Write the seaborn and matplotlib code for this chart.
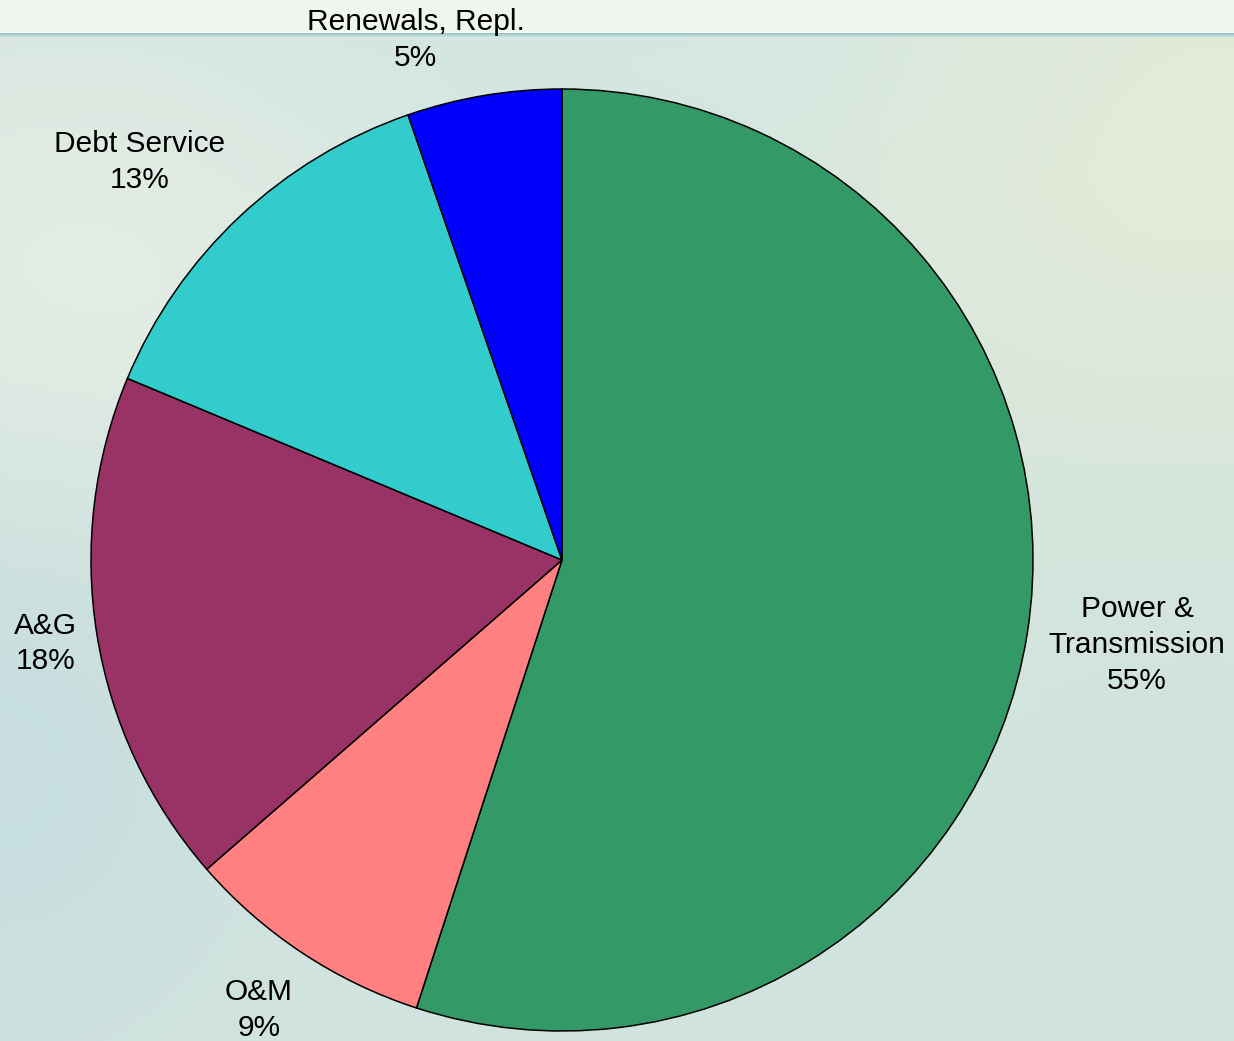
import numpy as np
import matplotlib
matplotlib.use("Agg")
import matplotlib.pyplot as plt
import seaborn as sns

# 数据
categories = ["Power &\nTransmission", "O&M", "A&G", "Debt Service", "Renewals, Repl."]
shares = [55.0, 8.6, 17.7, 13.4, 5.3]
slice_colors = ["#339966", "#FF8080", "#993366", "#33CCCC", "#0000FF"]
# 标签位置：半径倍数、相对扇区中线的角度偏移（度）
label_dist = [1.234, 1.152, 1.110, 1.233, 1.147]
label_shift = [0.6, -0.5, 0.0, 3.5, 6.2]

sns.set_theme(style="white")
plt.rcParams['font.family'] = ['Liberation Sans', 'DejaVu Sans']

W, H = 1234, 1041
fig = plt.figure(figsize=(W / 100, H / 100), dpi=100)

# 背景渐变
bg = fig.add_axes([0, 0, 1, 1])
bg.set_axis_off()
yy, xx = np.mgrid[0:H, 0:W].astype(float)


def hexrgb(h):
    return np.array([int(h[i:i + 2], 16) / 255 for i in (1, 3, 5)])


img = np.ones((H, W, 3)) * hexrgb("#d2e4df")


def blob(img, x0, y0, sx, sy, col, amt):
    w = amt * np.exp(-((xx - x0) ** 2 / (2 * sx ** 2) + (yy - y0) ** 2 / (2 * sy ** 2)))
    return img * (1 - w[..., None]) + hexrgb(col)[None, None, :] * w[..., None]


img = blob(img, 80, 300, 260, 200, "#e6eee4", 0.9)
img = blob(img, 1200, 150, 300, 250, "#e6ecd8", 0.9)
img = blob(img, 600, 60, 250, 80, "#d4e8e4", 0.6)
img = blob(img, 0, 760, 180, 200, "#c4dcde", 0.8)
img = blob(img, 1200, 800, 200, 250, "#cfe3da", 0.5)
img[yy < 33] = hexrgb("#f0f5ee")
img[(yy >= 31) & (yy < 33)] = hexrgb("#f4faf6")
for k, c in enumerate(["#9cc4c4", "#a8cccb", "#b8d6d4", "#c6dedb"]):
    img[yy == 33 + k] = hexrgb(c)
bg.imshow(img, extent=[0, W, H, 0], aspect='auto', interpolation='bilinear')
bg.set_xlim(0, W)
bg.set_ylim(H, 0)

# 饼图
cx, cy, r = 562, 560, 471
ax = fig.add_axes([0, 0, 1, 1])
ax.patch.set_alpha(0)
palette = sns.color_palette(slice_colors)
wedges, _ = ax.pie(shares, colors=palette, startangle=90, counterclock=False,
                   wedgeprops=dict(edgecolor="black", linewidth=1.1))
ax.set_aspect('auto')
ax.set_xlim(-cx / r, (W - cx) / r)
ax.set_ylim((cy - H) / r, cy / r)
ax.set_axis_off()

for w, name, val, d, s in zip(wedges, categories, shares, label_dist, label_shift):
    ang = np.deg2rad((w.theta1 + w.theta2) / 2 + s)
    ax.text(d * np.cos(ang), d * np.sin(ang), f"{name}\n{round(val):.0f}%",
            ha='center', va='center', fontsize=21.5, linespacing=1.35, color='black')

fig.savefig("out.png", dpi=100)
